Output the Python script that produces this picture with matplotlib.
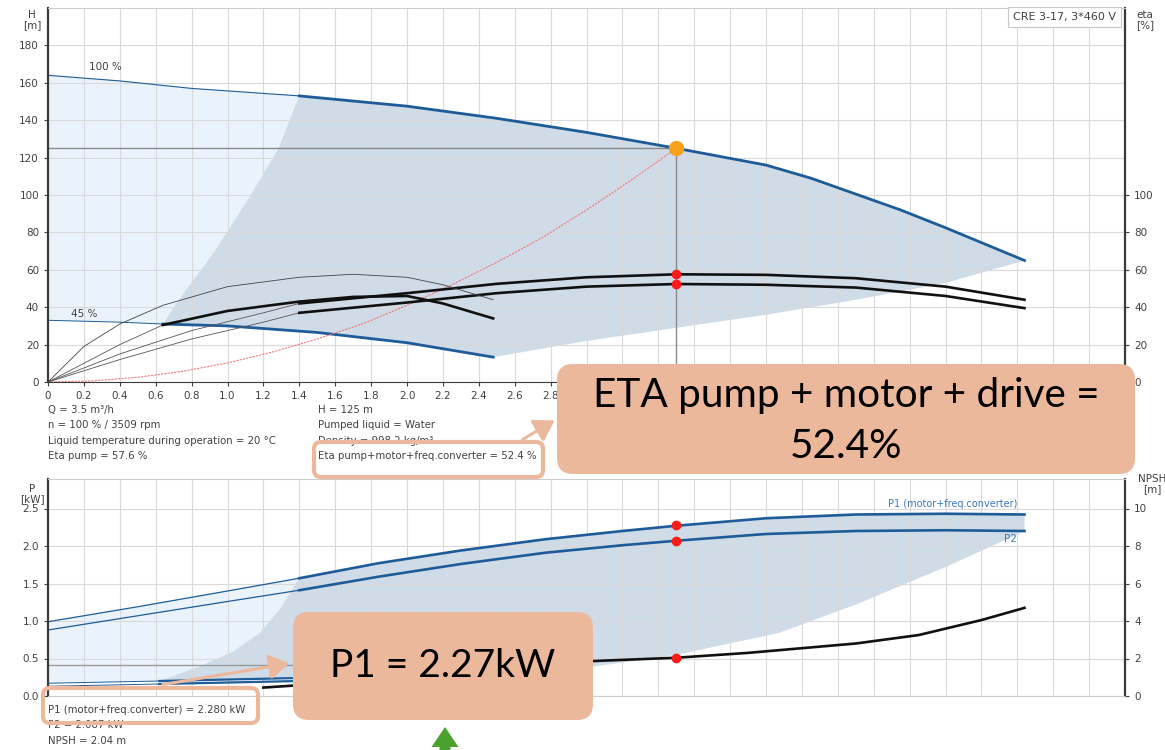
import numpy as np
import matplotlib.pyplot as plt
from matplotlib.patches import FancyBboxPatch, FancyArrowPatch, FancyArrow

# ---- data ----
# Q-H curve at 100 % speed
q100 = [0, 0.4, 0.8, 1.4, 2.0, 2.5, 3.0, 3.5, 4.0, 4.25, 4.5, 4.75, 5.0, 5.44]
h100 = [164, 161, 157, 153, 147.5, 141, 133.5, 125, 116, 109, 100.5, 92, 82.5, 65]
# Q-H curve at 45 % speed
q45 = [0, 0.4, 0.64, 1.0, 1.5, 2.0, 2.48]
h45 = [33, 32, 31, 30, 26.5, 21, 13.3]
# edge of the darker (allowed) zone
q_edge = [0.64, 0.73, 0.93, 1.11, 1.28, 1.4]
h_edge = [31, 44, 70, 97, 124, 153]
q_low = [2.48, 3.0, 3.5, 4.0, 4.5, 5.0, 5.44]
h_low = [13.3, 22, 29, 36, 44, 53, 65]

# system curve through the duty point
q_sys = [0, 0.25, 0.5, 0.75, 1.0, 1.25, 1.5, 1.75, 2.0, 2.25, 2.5, 2.75, 3.0, 3.25, 3.5]
h_sys = [0, 0.6, 2.5, 5.7, 10.2, 16, 23, 31, 41, 52, 64, 77, 92, 108, 125]

# efficiency curves [%]
q_eta100 = [0, 0.4, 0.8, 1.2, 1.4, 2.0, 2.5, 3.0, 3.5, 4.0, 4.5, 5.0, 5.44]
eta_pump100 = [0, 15, 27.5, 37, 42, 47.5, 52.5, 56, 57.6, 57.3, 55.5, 51, 44]
eta_tot100 = [0, 12, 23, 32, 37, 42.5, 47.5, 51, 52.4, 52, 50.5, 46, 39.5]
q_eta45 = [0, 0.2, 0.4, 0.64, 1.0, 1.4, 1.7, 2.0, 2.2, 2.48]
eta_pump45 = [0, 19, 31, 41, 51, 56, 57.6, 56, 52, 44]
eta_tot45 = [0, 10, 20, 30.5, 38, 43, 45.5, 46, 42, 34]

# power curves [kW]
q_p = [0, 0.5, 1.0, 1.4, 1.84, 2.3, 2.77, 3.2, 3.5, 4.0, 4.5, 5.0, 5.44]
p1_100 = [0.99, 1.19, 1.40, 1.57, 1.77, 1.94, 2.09, 2.20, 2.27, 2.37, 2.42, 2.43, 2.42]
p2_100 = [0.88, 1.07, 1.26, 1.41, 1.59, 1.76, 1.91, 2.01, 2.07, 2.16, 2.20, 2.21, 2.20]
q_p45 = [0, 0.62, 1.2, 1.8, 2.48]
p1_45 = [0.17, 0.20, 0.23, 0.26, 0.28]
p2_45 = [0.13, 0.16, 0.19, 0.22, 0.24]
q_pedge = [0.62, 0.84, 1.03, 1.18, 1.29, 1.4]
p_pedge = [0.20, 0.39, 0.59, 0.84, 1.15, 1.57]
q_plow = [2.48, 3.03, 3.5, 4.07, 4.5, 5.0, 5.44]
p_plow = [0.28, 0.39, 0.55, 0.84, 1.22, 1.72, 2.20]

# NPSH [m]
q_npsh = [1.2, 1.6, 2.0, 2.5, 3.0, 3.5, 3.9, 4.5, 4.85, 5.2, 5.44]
npsh = [0.45, 0.7, 1.05, 1.45, 1.85, 2.04, 2.3, 2.8, 3.25, 4.05, 4.7]

# duty point
q_duty, h_duty = 3.5, 125
eta_pump_duty, eta_tot_duty = 57.6, 52.4
p1_duty, p2_duty, npsh_duty = 2.28, 2.07, 2.04

x_ticks = np.arange(0, 6.01, 0.2)

BLUE = '#1d5c98'
LIGHT = '#eaf3fc'
DARK = '#cfdbe7'
SALMON = '#ecb89c'
TXT = '#404040'
FS = 7.5
FS_INFO = 7.3

plt.rcParams['font.family'] = ['DejaVu Sans']

fig = plt.figure(figsize=(11.65, 7.5), dpi=100)
ax = fig.add_axes([48/1165, 1-382/750, 1077/1165, 374/750])
axb = fig.add_axes([48/1165, 1-696/750, 1077/1165, 217.5/750])


def style(a):
    a.set_axisbelow(True)
    a.grid(True, color='#d9d9d9', lw=0.8)
    for s in ['left', 'right']:
        a.spines[s].set_color('#3a3a3a')
        a.spines[s].set_linewidth(1.6)
    a.spines['top'].set_color('#cccccc')
    a.spines['bottom'].set_color('#3a3a3a')
    a.tick_params(labelsize=FS, colors=TXT, length=3, width=0.8)


# ---- top chart: H and eta ----
style(ax)
ax.set_xlim(0, 6)
ax.set_ylim(0, 200)
ax.set_xticks(x_ticks)
# labels right of 2.8 sit under the call-out box
ax.set_xticklabels(['0'] + ['%.1f' % v if v < 2.9 else '' for v in x_ticks[1:]])
ax.set_yticks(np.arange(0, 181, 20))

q100a, h100a = np.array(q100), np.array(h100)
env_q = list(q100) + q_low[::-1] + q45[::-1]
env_h = list(h100) + h_low[::-1] + h45[::-1]
ax.fill(env_q, env_h, color=LIGHT, zorder=0.2, lw=0)
m = q100a >= 1.4
q45a, h45a = np.array(q45), np.array(h45)
m45 = q45a >= 0.64
dq = q_edge + list(q100a[m][1:]) + q_low[::-1][1:] + list(q45a[m45][::-1][1:])
dh = h_edge + list(h100a[m][1:]) + h_low[::-1][1:] + list(h45a[m45][::-1][1:])
ax.fill(dq, dh, color=DARK, zorder=0.3, lw=0)

ax.plot(q100a[q100a <= 1.4], h100a[q100a <= 1.4], color=BLUE, lw=0.8)
ax.plot(q100a[m], h100a[m], color=BLUE, lw=2)
ax.plot(q45a[q45a <= 0.64], h45a[q45a <= 0.64], color=BLUE, lw=0.7)
ax.plot(q45a[m45], h45a[m45], color=BLUE, lw=2)
ax.plot(q_sys, h_sys, color='#f07a7a', lw=0.8, ls=(0, (2, 1)))

qe = np.array(q_eta100)
for vals in (eta_pump100, eta_tot100):
    v = np.array(vals)
    ax.plot(qe[qe <= 1.4], v[qe <= 1.4], color='#555555', lw=0.6)
    ax.plot(qe[qe >= 1.4], v[qe >= 1.4], color='#111111', lw=1.9)
qe45 = np.array(q_eta45)
ax.plot(qe45, eta_pump45, color='#444444', lw=0.6)
v = np.array(eta_tot45)
ax.plot(qe45[qe45 <= 0.64], v[qe45 <= 0.64], color='#555555', lw=0.6)
ax.plot(qe45[qe45 >= 0.64], v[qe45 >= 0.64], color='#111111', lw=1.9)

ax.plot([0, q_duty], [h_duty, h_duty], color='#8a8a8a', lw=1, zorder=1.8)
ax.plot([q_duty, q_duty], [0, h_duty], color='#8a8a8a', lw=1, zorder=1.8)
ax.plot(q_duty, h_duty, 'o', color='#f9a11b', ms=10, zorder=5)
ax.plot([q_duty, q_duty], [eta_pump_duty, eta_tot_duty], 'o', color='#ff1a1a', ms=6, zorder=5)

ax.text(0.23, 167, '100 %', fontsize=FS, color=TXT)
ax.text(0.13, 35, '45 %', fontsize=FS, color=TXT)
ax.text(0.992, 0.988, 'CRE 3-17, 3*460 V', transform=ax.transAxes, ha='right', va='top',
        fontsize=8, color=TXT,
        bbox=dict(boxstyle='square,pad=0.45', fc='white', ec='#c8c8c8', lw=0.8))

axr = ax.twinx()
axr.set_ylim(0, 200)
axr.set_yticks(np.arange(0, 101, 20))
axr.tick_params(labelsize=FS, colors=TXT, length=3, width=0.8)
for s in axr.spines.values():
    s.set_visible(False)

fig.text(32/1165, 1-20/750, 'H\n[m]', fontsize=FS, color=TXT, ha='center', va='center', linespacing=1.1)
fig.text(1145/1165, 1-20/750, 'eta\n[%]', fontsize=FS, color=TXT, ha='center', va='center', linespacing=1.1)

# ---- bottom chart: P and NPSH ----
style(axb)
axb.set_xlim(0, 6)
axb.set_ylim(0, 2.9)
axb.set_xticks(x_ticks)
axb.set_xticklabels([])
axb.tick_params(axis='x', length=0)
axb.set_yticks(np.arange(0, 2.51, 0.5))
axb.set_yticklabels(['%.1f' % v for v in np.arange(0, 2.51, 0.5)])
axb.spines['bottom'].set_color('#cccccc')

qp = np.array(q_p)
p1a = np.array(p1_100)
qp45 = np.array(q_p45)
p1_45a = np.array(p1_45)
env_q = list(q_p) + [5.44] + q_plow[::-1] + q_p45[::-1]
env_p = p1_100 + [2.20] + p_plow[::-1] + p1_45[::-1]
axb.fill(env_q, env_p, color=LIGHT, zorder=0.2, lw=0)
mp = qp >= 1.4
mp45 = qp45 >= 0.62
dq = q_pedge + list(qp[mp][1:]) + q_plow[::-1] + list(qp45[mp45][::-1][1:])
dp = p_pedge + list(p1a[mp][1:]) + p_plow[::-1] + list(p1_45a[mp45][::-1][1:])
axb.fill(dq, dp, color=DARK, zorder=0.3, lw=0)

for vals in (p1_100, p2_100):
    v = np.array(vals)
    axb.plot(qp[qp <= 1.4], v[qp <= 1.4], color=BLUE, lw=0.9)
    axb.plot(qp[mp], v[mp], color=BLUE, lw=1.9)
for vals in (p1_45, p2_45):
    v = np.array(vals)
    axb.plot(qp45[qp45 <= 0.62], v[qp45 <= 0.62], color=BLUE, lw=0.7)
    axb.plot(qp45[mp45], v[mp45], color=BLUE, lw=1.6)
axb.plot([0, 2.48], [0.42, 0.42], color='#9a9a9a', lw=1)

axn = axb.twinx()
axn.set_ylim(0, 11.6)
axn.set_yticks(np.arange(0, 10.1, 2))
axn.tick_params(labelsize=FS, colors=TXT, length=3, width=0.8)
for s in axn.spines.values():
    s.set_visible(False)
axn.plot(q_npsh, npsh, color='#111111', lw=1.9)
axn.plot(q_duty, npsh_duty, 'o', color='#ff1a1a', ms=6, zorder=5)
axb.plot([q_duty, q_duty], [p1_duty, p2_duty], 'o', color='#ff1a1a', ms=6, zorder=5)

axb.text(5.4, 2.49, 'P1 (motor+freq.converter)', ha='right', va='bottom', fontsize=7, color='#3c78b4')
axb.text(5.4, 2.16, 'P2', ha='right', va='top', fontsize=FS, color='#3c78b4')

fig.text(32/1165, 1-494/750, 'P\n[kW]', fontsize=FS, color=TXT, ha='center', va='center', linespacing=1.1)
fig.text(1152/1165, 1-484/750, 'NPSH\n[m]', fontsize=FS, color=TXT, ha='center', va='center', linespacing=1.1)

# ---- text blocks ----
left = ['Q = 3.5 m³/h', 'n = 100 % / 3509 rpm',
        'Liquid temperature during operation = 20 °C', 'Eta pump = 57.6 %']
mid = ['H = 125 m', 'Pumped liquid = Water', 'Density = 998.2 kg/m³',
       'Eta pump+motor+freq.converter = 52.4 %']
for i, (a, b) in enumerate(zip(left, mid)):
    y = 1 - (410 + 15.3 * i) / 750
    fig.text(48/1165, y, a, fontsize=FS_INFO, color=TXT, va='center')
    fig.text(318/1165, y, b, fontsize=FS_INFO, color=TXT, va='center')
low = ['P1 (motor+freq.converter) = 2.280 kW', 'P2 = 2.087 kW', 'NPSH = 2.04 m']
for i, t in enumerate(low):
    fig.text(48/1165, 1 - (710 + 15.5 * i) / 750, t, fontsize=FS_INFO, color=TXT, va='center')

# ---- call-out boxes ----
tr = fig.dpi_scale_trans
for x0, y0, w, h in [(3.14, 2.73, 2.29, 0.35), (0.43, 0.27, 2.15, 0.35)]:
    fig.add_artist(FancyBboxPatch((x0, y0), w, h, boxstyle='round,pad=0,rounding_size=0.07',
                                  transform=tr, fc='none', ec=SALMON, lw=3, zorder=6))
for (x0, y0), (x1, y1) in [((5.20, 3.09), (5.57, 3.31)), ((1.60, 0.65), (2.92, 0.87))]:
    fig.add_artist(FancyArrowPatch((x0, y0), (x1, y1), transform=tr, arrowstyle='-|>,head_length=8,head_width=5',
                                   color=SALMON, lw=2.2, zorder=6, mutation_scale=1.5))
fig.add_artist(FancyBboxPatch((5.57, 2.76), 5.78, 1.10, boxstyle='round,pad=0,rounding_size=0.16',
                              transform=tr, fc=SALMON, ec='none', zorder=7))
fig.text((5.57 + 5.78/2)/11.65, (2.76 + 0.53)/7.5, 'ETA pump + motor + drive =\n52.4%',
         fontsize=29.2, family=['Lato', 'DejaVu Sans'], ha='center', va='center', linespacing=1.5, zorder=8)
fig.add_artist(FancyBboxPatch((2.93, 0.30), 3.00, 1.08, boxstyle='round,pad=0,rounding_size=0.16',
                              transform=tr, fc=SALMON, ec='none', zorder=7))
fig.text((2.93 + 1.50)/11.65, (0.30 + 0.54)/7.5, 'P1 = 2.27kW',
         fontsize=28, family=['Lato', 'DejaVu Sans'], ha='center', va='center', zorder=8)
fig.add_artist(FancyArrow(4.45, -0.2, 0, 0.43, width=0.11, head_width=0.27, head_length=0.2,
                          length_includes_head=True, transform=tr, color='#4aa12e', lw=0, zorder=8))

fig.savefig('out.png', dpi=100)
